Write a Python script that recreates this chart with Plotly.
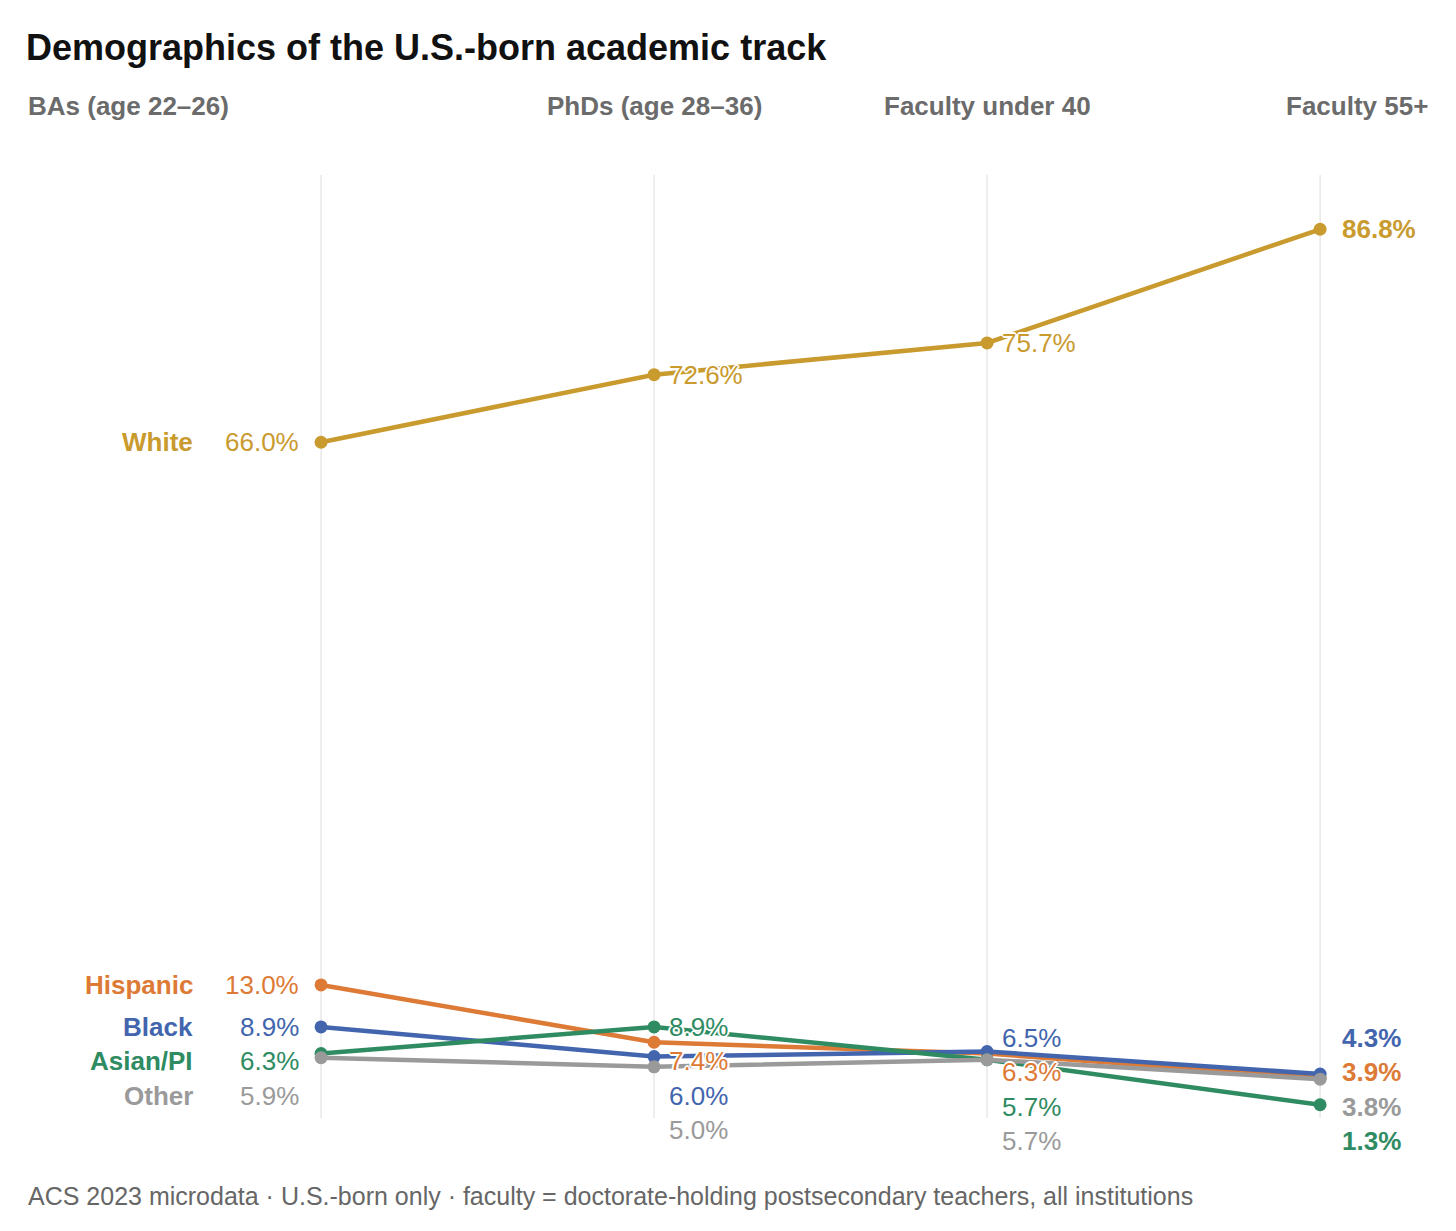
import plotly.graph_objects as go

# ---------------------------------------------------------------------------
# Data (percent of each stage, U.S.-born)
# ---------------------------------------------------------------------------

stages = ['BAs (age 22–26)', 'PhDs (age 28–36)', 'Faculty under 40', 'Faculty 55+']

groups = ['White', 'Hispanic', 'Black', 'Asian/PI', 'Other']
white = [66.0, 72.6, 75.7, 86.8]
hispanic = [13.0, 7.4, 6.3, 3.9]
black = [8.9, 6.0, 6.5, 4.3]
asian_pi = [6.3, 8.9, 5.7, 1.3]
other = [5.9, 5.0, 5.7, 3.8]

series = [white, hispanic, black, asian_pi, other]
colors = ['#c99a2e', '#dd7a36', '#4265ae', '#2f8b62', '#9a9a9a']

FONT = 'Liberation Sans, Helvetica, Arial, sans-serif'
W, H = 1440, 1215     # page adds an 8px body margin
Y_TOP = 92.1
Y_BOTTOM = -4.0
LABEL_GAP = 3.37      # min spacing between stacked labels (in % units)
LABEL_FLOOR = -2.25   # lowest a label may sit
HALO = ('2px 0 0 #fff, -2px 0 0 #fff, 0 2px 0 #fff, 0 -2px 0 #fff, '
        '1px 1px 0 #fff, -1px -1px 0 #fff, 1px -1px 0 #fff, -1px 1px 0 #fff')


def spread_labels(values, gap, floor):
    """Nudge label positions so they don't overlap, keeping them above floor."""
    order = sorted(range(len(values)), key=lambda i: -values[i])
    pos = {}
    prev = None
    for i in order:
        p = values[i] if prev is None else min(values[i], prev - gap)
        pos[i] = p
        prev = p
    nxt = None
    for i in reversed(order):
        p = max(pos[i], floor) if nxt is None else max(pos[i], nxt + gap)
        pos[i] = p
        nxt = p
    return [pos[i] for i in range(len(values))]


fig = go.Figure()

# light vertical guides per stage
for xi in range(len(stages)):
    fig.add_shape(type='line', x0=xi, x1=xi, y0=0, y1=Y_TOP, xref='x', yref='y',
                  line=dict(color='#e8e8e8', width=1.5), layer='below')

for name, vals, col in zip(groups, series, colors):
    fig.add_trace(go.Scatter(
        x=list(range(len(stages))), y=vals, mode='lines+markers', name=name,
        line=dict(color=col, width=4.5), marker=dict(color=col, size=13),
        hoverinfo='skip',
    ))

annotations = []
for xi in range(len(stages)):
    col_vals = [s[xi] for s in series]
    label_y = spread_labels(col_vals, LABEL_GAP, LABEL_FLOOR)
    for gi, (name, col) in enumerate(zip(groups, colors)):
        txt = f'{col_vals[gi]:.1f}%'
        if xi == 0:
            annotations.append(dict(
                x=xi, y=label_y[gi], text=txt, showarrow=False, xanchor='right',
                yanchor='middle', xshift=-20, font=dict(family=FONT, size=26, color=col)))
            annotations.append(dict(
                x=xi, y=label_y[gi], text=f'<b>{name}</b>', showarrow=False, xanchor='right',
                yanchor='middle', xshift=-126, font=dict(family=FONT, size=26, color=col)))
        elif xi == len(stages) - 1:
            annotations.append(dict(
                x=xi, y=label_y[gi], text=f'<b>{txt}</b>', showarrow=False, xanchor='left',
                yanchor='middle', xshift=20, font=dict(family=FONT, size=26, color=col)))
        else:
            annotations.append(dict(
                x=xi, y=label_y[gi], text=txt, showarrow=False, xanchor='left',
                yanchor='middle', xshift=13,
                font=dict(family=FONT, size=26, color=col, shadow=HALO)))

# stage headers across the top
header_font = dict(family=FONT, size=26, color='#6b6b6b')
annotations.append(dict(x=0, xref='paper', y=1.070, yref='paper', text=f'<b>{stages[0]}</b>',
                        showarrow=False, xanchor='left', yanchor='middle', font=header_font))
annotations.append(dict(x=1, xref='x', y=1.070, yref='paper', text=f'<b>{stages[1]}</b>',
                        showarrow=False, xanchor='center', yanchor='middle', font=header_font))
annotations.append(dict(x=2, xref='x', y=1.070, yref='paper', text=f'<b>{stages[2]}</b>',
                        showarrow=False, xanchor='center', yanchor='middle', font=header_font))
annotations.append(dict(x=1, xref='paper', y=1.070, yref='paper', text=f'<b>{stages[3]}</b>',
                        showarrow=False, xanchor='right', yanchor='middle', font=header_font))

# source note
annotations.append(dict(
    x=0, xref='paper', y=-0.0376, yref='paper', showarrow=False, xanchor='left', yanchor='middle',
    text='ACS 2023 microdata · U.S.-born only · faculty = doctorate-holding postsecondary teachers, all institutions',
    font=dict(family=FONT, size=25, color='#666666')))

fig.update_layout(
    width=W, height=H,
    margin=dict(l=18, r=18, t=167, b=64),
    paper_bgcolor='white', plot_bgcolor='white',
    showlegend=False,
    title=dict(text='<b>Demographics of the U.S.-born academic track</b>',
               x=18 / W, xanchor='left', xref='container',
               y=1 - 39 / H, yanchor='middle', yref='container',
               font=dict(family=FONT, size=36, color='#111111')),
    xaxis=dict(range=[-0.886, 3.330], visible=False, fixedrange=True),
    yaxis=dict(range=[Y_BOTTOM, Y_TOP], visible=False, fixedrange=True),
    annotations=annotations,
)

fig.write_html('out.html')
